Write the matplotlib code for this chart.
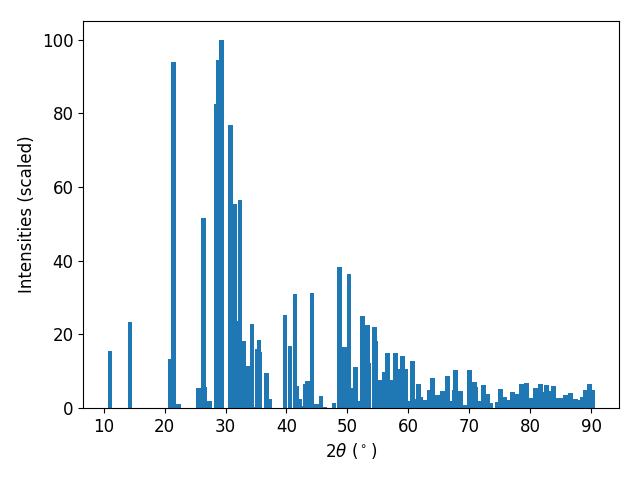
import matplotlib
matplotlib.use("Agg")
import matplotlib.pyplot as plt

# XRD peak positions (2-theta, degrees) and scaled intensities
two_theta = [
    11.03, 14.31, 20.87, 21.52, 22.34, 25.49, 26.31, 26.56, 27.30, 28.43,
    28.79, 29.30, 30.74, 31.51, 32.13, 32.36, 33.03, 33.69, 34.34, 34.84,
    35.16, 35.49, 35.66, 36.66, 37.30, 39.75, 40.57, 41.39, 41.64, 42.13,
    42.62, 43.18, 43.51, 44.18, 44.92, 45.66, 46.30, 47.79, 48.77, 49.51,
    50.25, 50.90, 51.39, 51.97, 52.46, 52.62, 53.36, 53.44, 54.43, 54.59,
    54.67, 55.25, 55.74, 56.07, 56.64, 57.21, 57.95, 58.52, 59.10, 59.51,
    60.08, 60.74, 61.15, 61.72, 62.00, 62.46, 62.70, 63.44, 64.02, 64.84,
    65.66, 66.48, 66.97, 67.62, 67.79, 68.52, 69.26, 70.08, 70.82, 71.07,
    71.64, 72.38, 72.95, 73.44, 74.67, 75.16, 75.82, 75.98, 76.39, 77.13,
    77.62, 77.95, 78.61, 79.43, 80.16, 80.90, 81.72, 81.97, 82.70, 83.20,
    83.85, 84.67, 85.08, 85.82, 86.64, 87.46, 88.11, 88.61, 89.10, 89.75,
    90.16,
]
intensity = [
    15.4, 23.4, 13.3, 94.0, 1.0, 5.5, 51.6, 5.7, 1.8, 82.6,
    94.4, 100.0, 76.9, 55.5, 23.6, 56.5, 18.2, 11.4, 22.8, 0.4,
    16.0, 18.5, 15.2, 9.5, 2.4, 25.3, 16.8, 31.0, 6.0, 2.4,
    0.5, 6.5, 7.3, 31.3, 1.1, 3.3, 0.4, 1.4, 38.3, 16.6,
    36.4, 5.4, 11.1, 1.8, 25.0, 10.6, 22.6, 12.2, 22.0, 18.2,
    9.2, 7.6, 0.8, 9.8, 15.0, 7.6, 15.0, 10.6, 14.1, 10.6,
    1.9, 12.8, 2.4, 6.5, 3.0, 1.0, 2.2, 4.9, 8.2, 3.5,
    4.6, 8.7, 1.9, 4.9, 10.3, 4.6, 0.8, 10.3, 7.1, 5.7,
    1.9, 6.2, 3.8, 1.4, 1.6, 5.1, 3.0, 1.0, 2.2, 4.3,
    3.5, 3.8, 6.5, 6.8, 2.7, 5.4, 6.5, 4.3, 6.2, 4.6,
    6.0, 2.7, 2.7, 3.5, 4.1, 2.4, 2.2, 3.0, 4.9, 6.5,
    4.9,
]

plt.rcParams["font.size"] = 12

fig, ax = plt.subplots(figsize=(6.4, 4.8), dpi=100)
ax.bar(two_theta, intensity, width=0.8, color="C0")
ax.set_xlabel(r"$2\theta$ ($^\circ$)")
ax.set_ylabel("Intensities (scaled)")
fig.subplots_adjust(left=0.130, right=0.967, top=0.956, bottom=0.150)
fig.savefig("out.png", dpi=100)
